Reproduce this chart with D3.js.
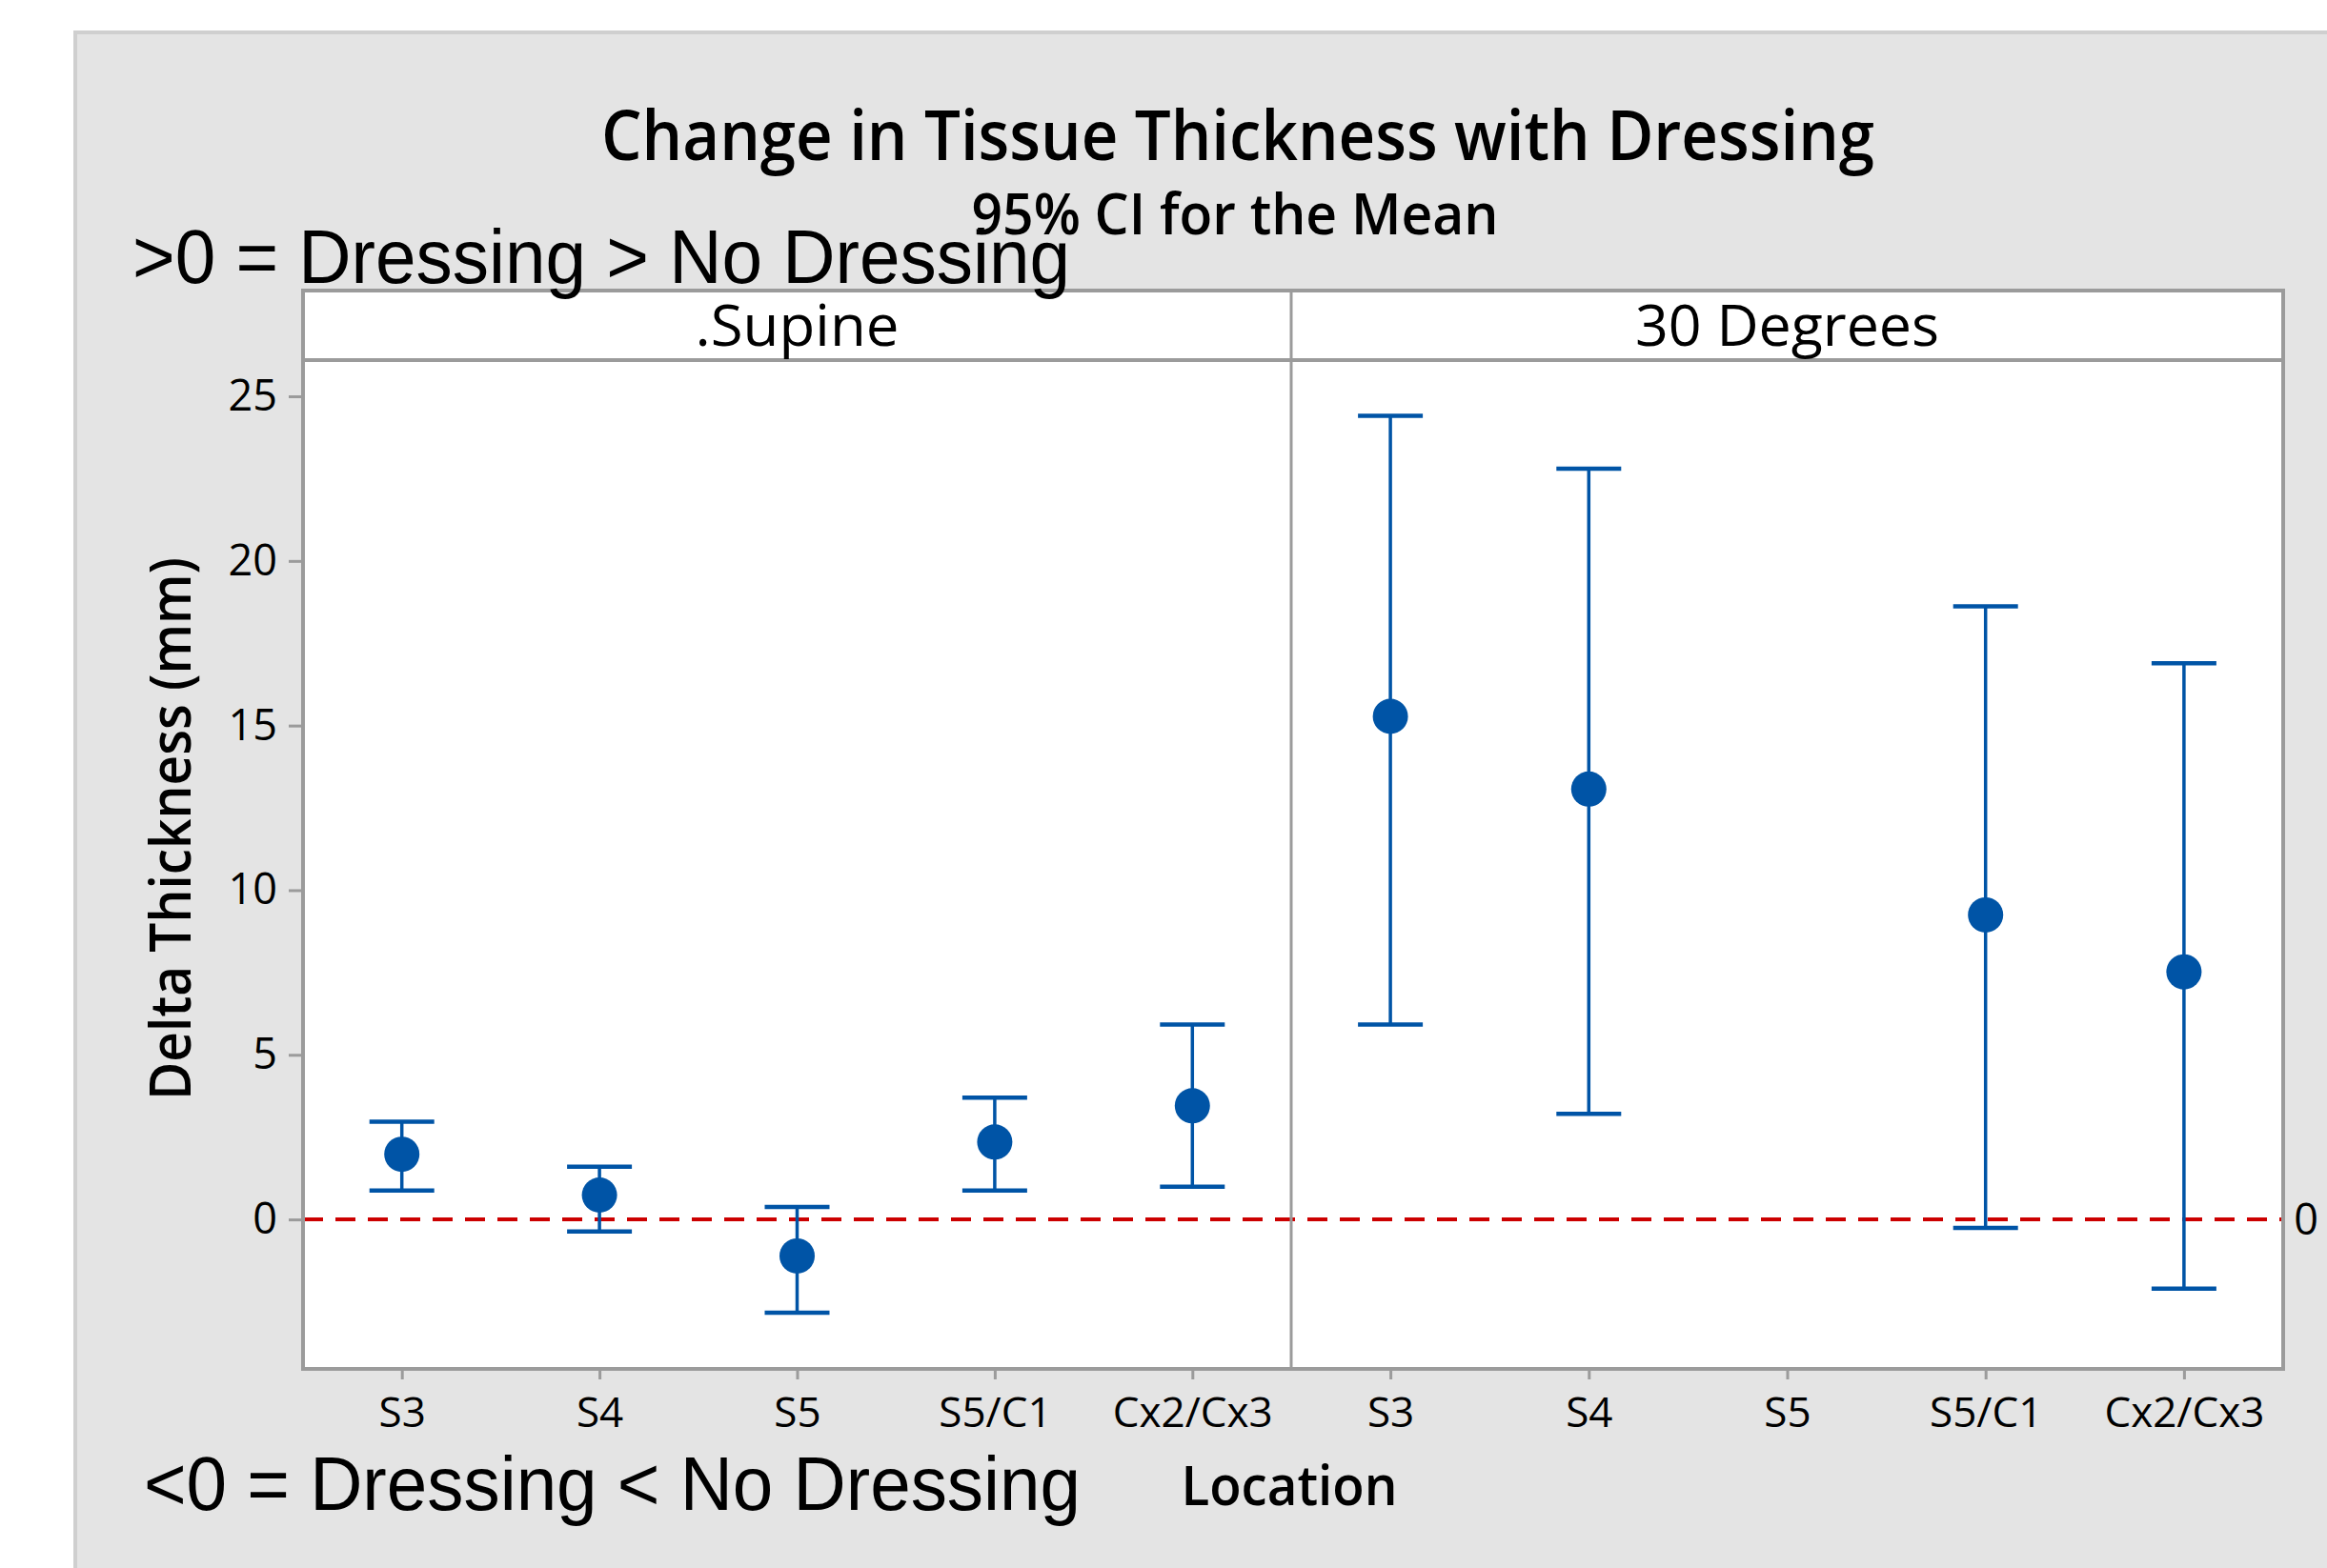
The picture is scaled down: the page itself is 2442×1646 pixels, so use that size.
<!DOCTYPE html>
<html>
<head>
<meta charset="utf-8">
<script src="https://cdn.jsdelivr.net/npm/d3@7"></script>
<style>
  body { margin: 0; background: #fff; }
  text { font-family: "Open Sans", "Noto Sans", sans-serif; fill: #000; }
</style>
</head>
<body>
<svg id="chart"></svg>
<script>
// values
const locations = ["S3", "S4", "S5", "S5/C1", "Cx2/Cx3"];
const panels = [".Supine", "30 Degrees"];

const supineMean  = [1.98, 0.74, -1.11, 2.35, 3.45];
const supineLower = [0.88, -0.37, -2.83, 0.88, 0.99];
const supineUpper = [2.97, 1.60, 0.38, 3.70, 5.92];

const deg30Mean  = [15.28, 13.07, null, 9.25, 7.52];
const deg30Lower = [5.92, 3.21, null, -0.26, -2.10];
const deg30Upper = [24.41, 22.80, null, 18.62, 16.89];

const yTicks = [0, 5, 10, 15, 20, 25];
const refValue = 0;

const W = 2442, H = 1646;
const blue = "#0054a6", red = "#cc0000", axisGray = "#9b9b9b";

// plot box
const boxLeft = 318, boxRight = 2396, stripTop = 305, plotTop = 378, plotBottom = 1437, divider = 1355;

const svg = d3.select("#chart").attr("width", W).attr("height", H);

// gray background with light border
svg.append("rect").attr("x", 79).attr("y", 34).attr("width", W).attr("height", H)
  .attr("fill", "#e4e4e4").attr("stroke", "#cfcfcf").attr("stroke-width", 4);

const y = d3.scaleLinear().domain([-4.54, 26.1]).range([plotBottom, plotTop]);

const panelRanges = [[boxLeft, divider], [divider, boxRight]];
const xScales = panelRanges.map(r => d3.scalePoint().domain(locations).range(r).padding(0.5));

// white plot + strip
svg.append("rect").attr("x", boxLeft).attr("y", stripTop).attr("width", boxRight - boxLeft)
  .attr("height", plotBottom - stripTop).attr("fill", "#fff");

// helper for text squeezed to a target width
function label(str, x, yy, size, weight, anchor, width) {
  const t = svg.append("text").attr("x", x).attr("y", yy)
    .attr("font-size", size).attr("font-weight", weight)
    .attr("text-anchor", anchor).text(str);
  if (width) t.attr("textLength", width).attr("lengthAdjust", "spacingAndGlyphs");
  return t;
}

// y axis
const yAxis = svg.append("g").attr("transform", `translate(${boxLeft},0)`)
  .call(d3.axisLeft(y).tickValues(yTicks).tickSize(15).tickPadding(12));
yAxis.select(".domain").remove();
yAxis.selectAll(".tick line").attr("stroke", axisGray).attr("stroke-width", 3);
yAxis.selectAll(".tick text").attr("font-size", 45).attr("font-family", "Open Sans").attr("fill", "#000");

// x axes, one per panel
xScales.forEach(xs => {
  const g = svg.append("g").attr("transform", `translate(0,${plotBottom})`)
    .call(d3.axisBottom(xs).tickSize(11).tickPadding(19));
  g.select(".domain").remove();
  g.selectAll(".tick line").attr("stroke", axisGray).attr("stroke-width", 3);
  g.selectAll(".tick text").attr("font-size", 44).attr("font-family", "Open Sans").attr("fill", "#000");
});

// reference line at 0
svg.append("line").attr("x1", boxLeft).attr("x2", boxRight)
  .attr("y1", y(refValue)).attr("y2", y(refValue))
  .attr("stroke", red).attr("stroke-width", 4).attr("stroke-dasharray", "21 13");
label("0", boxRight + 24, y(refValue) + 16, 45, 400, "middle").attr("fill", red);

// error bars and means
const series = [
  { mean: supineMean, lo: supineLower, hi: supineUpper },
  { mean: deg30Mean, lo: deg30Lower, hi: deg30Upper }
];
series.forEach((s, p) => {
  const xs = xScales[p];
  const rows = locations.map((loc, i) => ({ loc, m: s.mean[i], lo: s.lo[i], hi: s.hi[i] }))
    .filter(d => d.m !== null);
  const g = svg.append("g");
  g.selectAll(".bar").data(rows).enter().append("line")
    .attr("x1", d => xs(d.loc)).attr("x2", d => xs(d.loc))
    .attr("y1", d => y(d.lo)).attr("y2", d => y(d.hi))
    .attr("stroke", blue).attr("stroke-width", 3.5);
  ["lo", "hi"].forEach(k => {
    g.selectAll(".cap-" + k).data(rows).enter().append("line")
      .attr("x1", d => xs(d.loc) - 34).attr("x2", d => xs(d.loc) + 34)
      .attr("y1", d => y(d[k])).attr("y2", d => y(d[k]))
      .attr("stroke", blue).attr("stroke-width", 4.5);
  });
  g.selectAll("circle").data(rows).enter().append("circle")
    .attr("cx", d => xs(d.loc)).attr("cy", d => y(d.m)).attr("r", 18.5)
    .attr("fill", blue);
});

// frame lines
const frame = svg.append("g").attr("stroke", axisGray).attr("fill", "none");
frame.append("rect").attr("x", boxLeft).attr("y", stripTop).attr("width", boxRight - boxLeft)
  .attr("height", plotBottom - stripTop).attr("stroke-width", 4);
frame.append("line").attr("x1", boxLeft).attr("x2", boxRight).attr("y1", plotTop).attr("y2", plotTop).attr("stroke-width", 4);
frame.append("line").attr("x1", divider).attr("x2", divider).attr("y1", stripTop).attr("y2", plotBottom).attr("stroke-width", 3);

// strip labels
label(panels[0], (boxLeft + divider) / 2, 363, 60, 400, "middle", 214);
label(panels[1], (divider + boxRight) / 2, 363, 60, 400, "middle", 319);

// titles and notes
label("Change in Tissue Thickness with Dressing", 1299, 168, 72, 600, "middle", 1336);
label("95% CI for the Mean", 1296, 246, 59, 600, "middle", 553);
label(">0 = Dressing > No Dressing", 139, 297, 80, 400, "start", 984)
  .style("font-family", "'Liberation Sans', Arial, sans-serif");
label("<0 = Dressing < No Dressing", 151, 1585, 80, 400, "start", 983)
  .style("font-family", "'Liberation Sans', Arial, sans-serif");
label("Location", 1353, 1580, 58, 600, "middle", 227);
label("Delta Thickness (mm)", 0, 0, 60, 600, "middle", 570)
  .attr("transform", "translate(200,870) rotate(-90)");
</script>
</body>
</html>
